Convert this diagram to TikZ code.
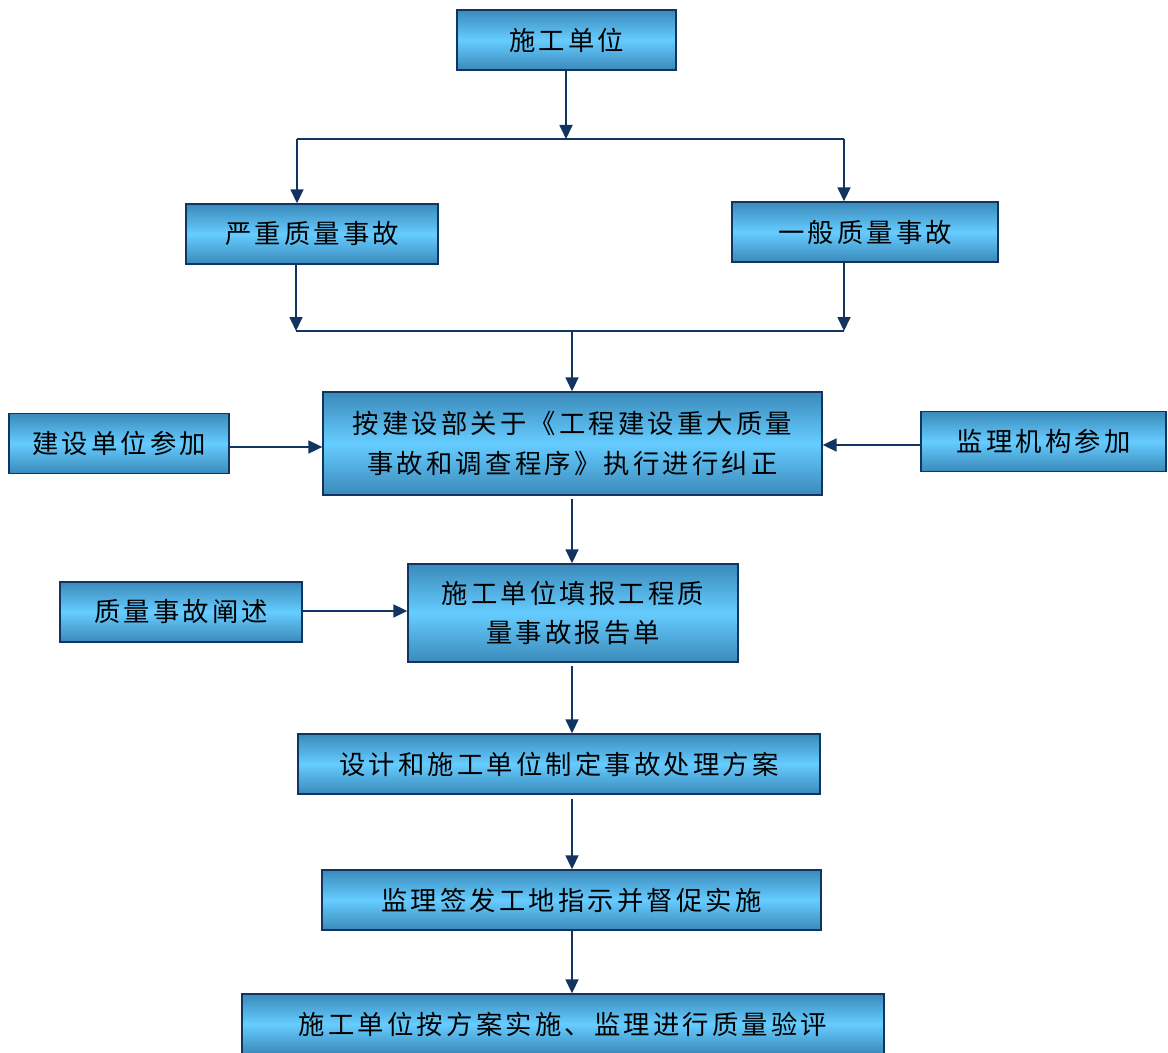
\documentclass[tikz,border=0pt]{standalone}
\usepackage{fontspec}
\setmainfont{Noto Sans CJK SC}[LetterSpace=12]
\usepackage{tikz}
\usetikzlibrary{arrows.meta}

\definecolor{boxdark}{RGB}{58,138,186}
\definecolor{boxlight}{RGB}{102,204,255}
\definecolor{navy}{RGB}{18,52,96}

\tikzset{
	box/.style={draw=navy, line width=0.8pt, top color=boxdark, bottom color=boxdark, middle color=boxlight,
		inner sep=0pt, minimum height=1.2cm, align=center, font=\fontsize{15}{22.7}\selectfont},
	link/.style={draw=navy, line width=1pt, -{Triangle[length=0.28cm,width=0.26cm]}},
	bar/.style={draw=navy, line width=1pt}
}

\begin{document}
\begin{tikzpicture}[x=0.02cm, y=-0.02cm]

						\useasboundingbox (0, 0) rectangle (1168, 1053);

						\node[box, minimum width=4.38cm] (unit) at (566.5, 40) {施工单位};
						\node[box, minimum width=5.04cm] (serious) at (312, 234) {严重质量事故};
						\node[box, minimum width=5.32cm] (general) at (865, 232) {一般质量事故};
						\node[box, minimum width=9.98cm, minimum height=2.06cm] (rule) at (572.5, 443.5) {按建设部关于《工程建设重大质量\\事故和调查程序》执行进行纠正};
						\node[box, minimum width=4.4cm] (owner) at (119, 443.5) {建设单位参加};
						\node[box, minimum width=4.9cm] (super) at (1043.5, 441.5) {监理机构参加};
						\node[box, minimum width=6.6cm, minimum height=1.96cm] (report) at (573, 613) {施工单位填报工程质\\量事故报告单};
						\node[box, minimum width=4.84cm] (state) at (181, 612) {质量事故阐述};
						\node[box, minimum width=10.44cm] (plan) at (559, 764) {设计和施工单位制定事故处理方案};
						\node[box, minimum width=9.98cm] (order) at (571.5, 900) {监理签发工地指示并督促实施};
						\node[box, minimum width=12.84cm] (check) at (563, 1024) {施工单位按方案实施、监理进行质量验评};

						\coordinate (sl) at (297, 139);
						\coordinate (sm) at (566, 139);
						\coordinate (sr) at (844, 139);
						\coordinate (jl) at (296, 331);
						\coordinate (jm) at (572, 331);
						\coordinate (jr) at (844, 331);

						% split
						\draw[link] (unit.south -| sm) -- (sm);
						\draw[bar] (sl) -- (sr);
						\draw[link] (sl) -- (sl |- serious.north);
						\draw[link] (sr) -- (sr |- general.north);

						% join
						\draw[link] (serious.south -| jl) -- (jl);
						\draw[link] (general.south -| jr) -- (jr);
						\draw[bar] (jl) -- (jr);
						\draw[link] (jm) -- (jm |- rule.north);

						\draw[link] (owner.east |- 0, 447) -- (rule.west |- 0, 447);
						\draw[link] (super.west |- 0, 445) -- (rule.east |- 0, 445);
						\draw[link] ([yshift=-0.06cm]rule.south -| jm) -- (report.north -| jm);
						\draw[link] (state.east |- 0, 611) -- (report.west |- 0, 611);
						\draw[link] ([yshift=-0.06cm]report.south -| jm) -- (plan.north -| jm);
						\draw[link] ([yshift=-0.08cm]plan.south -| jm) -- (order.north -| jm);
						\draw[link] (order.south -| jm) -- (check.north -| jm);

					\end{tikzpicture}
\end{document}
